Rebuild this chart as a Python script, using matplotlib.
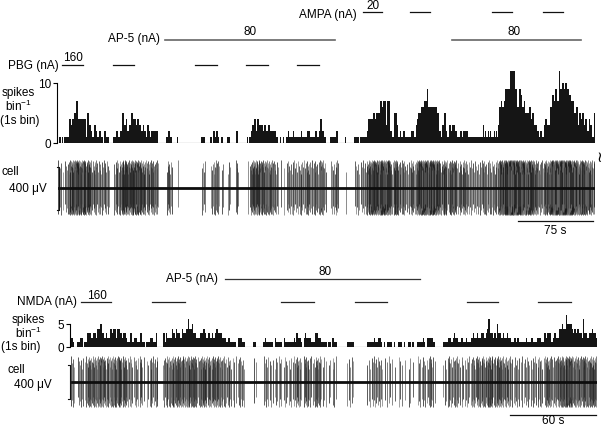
import matplotlib
matplotlib.use("Agg")
import matplotlib.pyplot as plt

W, H = 605, 427
plt.rcParams['font.family'] = ['Liberation Sans', 'DejaVu Sans']
plt.rcParams['mathtext.fontset'] = 'custom'
plt.rcParams['mathtext.rm'] = 'Liberation Sans'
plt.rcParams['mathtext.it'] = 'Liberation Sans'
plt.rcParams['mathtext.bf'] = 'Liberation Sans'

# ---------------- data ----------------
# Top experiment: spikes per 1 s bin (hex digits: A=10, B=11, C=12)
top_counts_a = ("1011010111" "1144344557" "7444444441" "5533211332" "1122110221"
                "1100001112" "2112255334" "2233554443" "4433223221" "3321222222"
                "2000000001")
top_counts_b = ("1221100000" "1000000000" "0000000000" "0000111100" "0001102212"
                "2100110000" "1110000002" "2000000000" "1011233442" "4433332332")
top_counts_c = ("2332222221" "1001001001" "1211112111" "1111211111" "2221111122"
                "1124422110" "0001111112" "2000000010" "0000000111" "1101111111")
top_counts_d = ("2444445545" "5557767773" "7772211555" "3112112211" "1111222113"
                "4555666777" "9666666666" "5522133552" "1133233322" "1112212222")
top_counts_e = ("2111111111" "1111113121" "1212111212" "1366766799" "999CCCCC99"
                "6699866755" "5566455333" "2212211344" "3336688799" "77C99AA9AA"
                "9988777556" "6355455344" "22433115")

# Bottom experiment: spikes per 1 s bin
bot_counts_a = ("1210011" "2201133" "3233244" "5332322" "4344244" "3233211" "3112211"
                "3110111" "2211300" "0031322" "2432433" "2433464" "4533222" "3343233"
                "2323433" "3222122" "1111022" "2110000" "0011000" "0012111" "1102111"
                "1021111" "1121322" "1023222" "1113322" "1111011")
bot_counts_b = ("0211000" "0000111" "1100000" "0000111" "1121122" "1010111" "1010011"
                "1010011" "0100111" "1210222" "2110000" "0111122" "1232211" "2112111"
                "2322322" "3323463" "3232533" "2322322" "1121211" "1112111" "2111222"
                "1132333" "1232244" "5447555" "4343433" "2633233" "4332")

# drug application epochs (s)
top_pbg = [(5, 26), (56, 77), (138, 160), (189, 211), (240, 262)]
top_ampa = [(306, 325), (353, 373), (435, 455), (486, 506)]
top_ap5 = [(108, 278), (395, 524)]
bot_nmda = [(7.7, 28.6), (57.2, 80.3), (147.2, 170.3), (198.9, 221.2), (277.0, 298.7), (326.6, 349.6)]
bot_ap5 = [(108.2, 244.2)]

pbg_dose, ampa_dose, ap5_dose, nmda_dose = "160", "20", "80", "160"
top_scale_s, bot_scale_s = 75, 60
trace_scale_uv = 400


def decode(*chunks):
    return [int(c, 16) for c in "".join(chunks)]


top_counts = decode(top_counts_a, top_counts_b, top_counts_c, top_counts_d, top_counts_e)
bot_counts = decode(bot_counts_a, bot_counts_b)

# ---------------- figure helpers ----------------
fig = plt.figure(figsize=(W / 100, H / 100), dpi=100)
FS = 8.5


def px_axes(left, top, width, height):
    ax = fig.add_axes([left / W, 1 - (top + height) / H, width / W, height / H])
    ax.patch.set_alpha(0)
    return ax


def ftext(x, y, s, **kw):
    kw.setdefault('fontsize', FS)
    kw.setdefault('va', 'center')
    fig.text(x / W, 1 - y / H, s, **kw)


def clean(ax):
    for sp in ax.spines.values():
        sp.set_visible(False)
    ax.set_xticks([])
    ax.set_yticks([])


def histogram(ax, counts, ymax, tick_top):
    n = len(counts)
    edges = list(range(n + 1))
    ax.stairs(counts, edges, fill=True, color='#151515', linewidth=0)
    ax.set_xlim(0, n)
    ax.set_ylim(0, ymax)
    for s in ['top', 'right', 'bottom']:
        ax.spines[s].set_visible(False)
    ax.axhline(0, color='#151515', lw=0.8)
    ax.spines['left'].set_bounds(0, tick_top)
    ax.spines['left'].set_linewidth(0.8)
    ax.set_xticks([])
    ax.set_yticks([0, tick_top])
    ax.set_yticklabels(['0', str(tick_top)])
    ax.tick_params(axis='y', length=3, width=0.8, pad=1, labelsize=FS)


amp_up = [1.0, 0.72, 0.9, 0.58, 0.95, 0.8, 0.66, 0.86, 0.5, 0.93, 0.76]
amp_dn = [0.95, 0.7, 1.0, 0.82, 0.6, 0.9, 0.75, 0.98, 0.66]
spike_colors = ['#101010', '#5e5e5e', '#262626', '#7a7a7a', '#181818', '#474747', '#666666']


def trace(ax, counts, up, dn, ylim):
    n = len(counts)
    xs, lo, hi, cs = [], [], [], []
    k = 0
    for i, c in enumerate(counts):
        for j in range(c):
            xs.append(i + (j + 0.5) / c)
            hi.append(up * amp_up[k % len(amp_up)])
            lo.append(-dn * amp_dn[k % len(amp_dn)])
            cs.append(spike_colors[k % len(spike_colors)])
            k += 1
    ax.vlines(xs, lo, hi, colors=cs, linewidth=0.5, zorder=2)
    ax.axhline(0, xmin=0.004, color='#0d0d0d', lw=2.0, zorder=3)
    ax.set_xlim(0, n)
    ax.set_ylim(*ylim)
    clean(ax)


# ---------------- TOP PANEL ----------------
Nt = len(top_counts)
ax_h1 = px_axes(57, 66, Nt, 78)
histogram(ax_h1, top_counts, 13, 10)

ax_a1 = px_axes(57, 0, Nt, 66)
ax_a1.set_xlim(0, Nt)
ax_a1.set_ylim(66, 0)
clean(ax_a1)
for a, b in top_pbg:
    ax_a1.plot([a, b], [66, 66], color='#111', lw=0.9, clip_on=False)
for a, b in top_ampa:
    ax_a1.plot([a, b], [13, 13], color='#111', lw=0.9, clip_on=False)
for a, b in top_ap5:
    ax_a1.plot([a, b], [41, 41], color='#666', lw=1.2, clip_on=False)
    ax_a1.text((a + b) / 2 + (0 if a < 300 else -2), 32, ap5_dose, ha='center', va='center', fontsize=FS)
ax_a1.text(top_pbg[0][0] + 11, 58.5, pbg_dose, ha='center', va='center', fontsize=FS)
ax_a1.text(top_ampa[0][0] + 10, 6, ampa_dose, ha='center', va='center', fontsize=FS)

ftext(160, 39, "AP-5 (nA)", ha='right')
ftext(59, 66, "PBG (nA)", ha='right')
ftext(357, 15, "AMPA (nA)", ha='right')
ftext(18, 93, "spikes", ha='center')
ftext(18, 106, r"bin$^{\mathregular{-1}}$", ha='center')
ftext(0.5, 121, "(1s bin)", ha='left')

k1 = trace_scale_uv / 43.0
ax_t1 = px_axes(57, 155, Nt, 70)
trace(ax_t1, top_counts, 28 * k1, 27 * k1, (-(225 - 189) * k1, (189 - 155) * k1))
bh = trace_scale_uv / 2
ax_t1.plot([-0.5, 2.0, 2.0, -0.5], [bh, bh, -bh, -bh], color='#111', lw=0.8, clip_on=False)
ax_t1.plot([Nt - 2 - top_scale_s, Nt - 2], [-(222 - 189) * k1] * 2, color='#111', lw=0.9, clip_on=False)
ax_t1.text(Nt - 2 - top_scale_s / 2, -(231 - 189) * k1, f"{top_scale_s} s", ha='center', va='center',
           fontsize=FS, clip_on=False)
ftext(2, 172, "cell", ha='left')
ftext(47, 189, "400 \u03bcV", ha='right')
ftext(599, 158, "\u2240", ha='center', fontsize=11, family=['DejaVu Sans'])

# ---------------- BOTTOM PANEL ----------------
Nb = len(bot_counts)
pxs = 1.433
bw = Nb * pxs
ax_h2 = px_axes(70, 348 - 36.8, bw, 36.8)
histogram(ax_h2, bot_counts, 8, 5)

ax_a2 = px_axes(70, 260, bw, 51.2)
ax_a2.set_xlim(0, Nb)
ax_a2.set_ylim(311.2, 260)
clean(ax_a2)
for a, b in bot_nmda:
    ax_a2.plot([a, b], [303, 303], color='#222', lw=0.9, clip_on=False)
for a, b in bot_ap5:
    ax_a2.plot([a, b], [280, 280], color='#333', lw=0.9, clip_on=False)
    ax_a2.text((a + b) / 2 + 2, 272, ap5_dose, ha='center', va='center', fontsize=FS)
ax_a2.text(bot_nmda[0][0] + 11, 296, nmda_dose, ha='center', va='center', fontsize=FS)

ftext(218, 279, "AP-5 (nA)", ha='right')
ftext(77, 302, "NMDA (nA)", ha='right')
ftext(28, 320, "spikes", ha='center')
ftext(28, 333, r"bin$^{\mathregular{-1}}$", ha='center')
ftext(21, 347, "(1s bin)", ha='center')

k2 = trace_scale_uv / 34.0
ax_t2 = px_axes(70, 352, bw, 75)
trace(ax_t2, bot_counts, 26 * k2, 25 * k2, (-(427 - 383) * k2, (383 - 352) * k2))
ax_t2.plot([-1.5, 0.0, 0.0, -1.5], [bh, bh, -bh, -bh], color='#111', lw=0.8, clip_on=False)
ax_t2.plot([Nb - 1 - bot_scale_s, Nb - 1], [-(416 - 383) * k2] * 2, color='#111', lw=0.9, clip_on=False)
ax_t2.text(Nb - 1 - bot_scale_s / 2, -(421.5 - 383) * k2, f"{bot_scale_s} s", ha='center', va='center',
           fontsize=FS, clip_on=False)
ftext(8, 370, "cell", ha='left')
ftext(52, 385, "400 \u03bcV", ha='right')

fig.savefig("out.png", dpi=100)
